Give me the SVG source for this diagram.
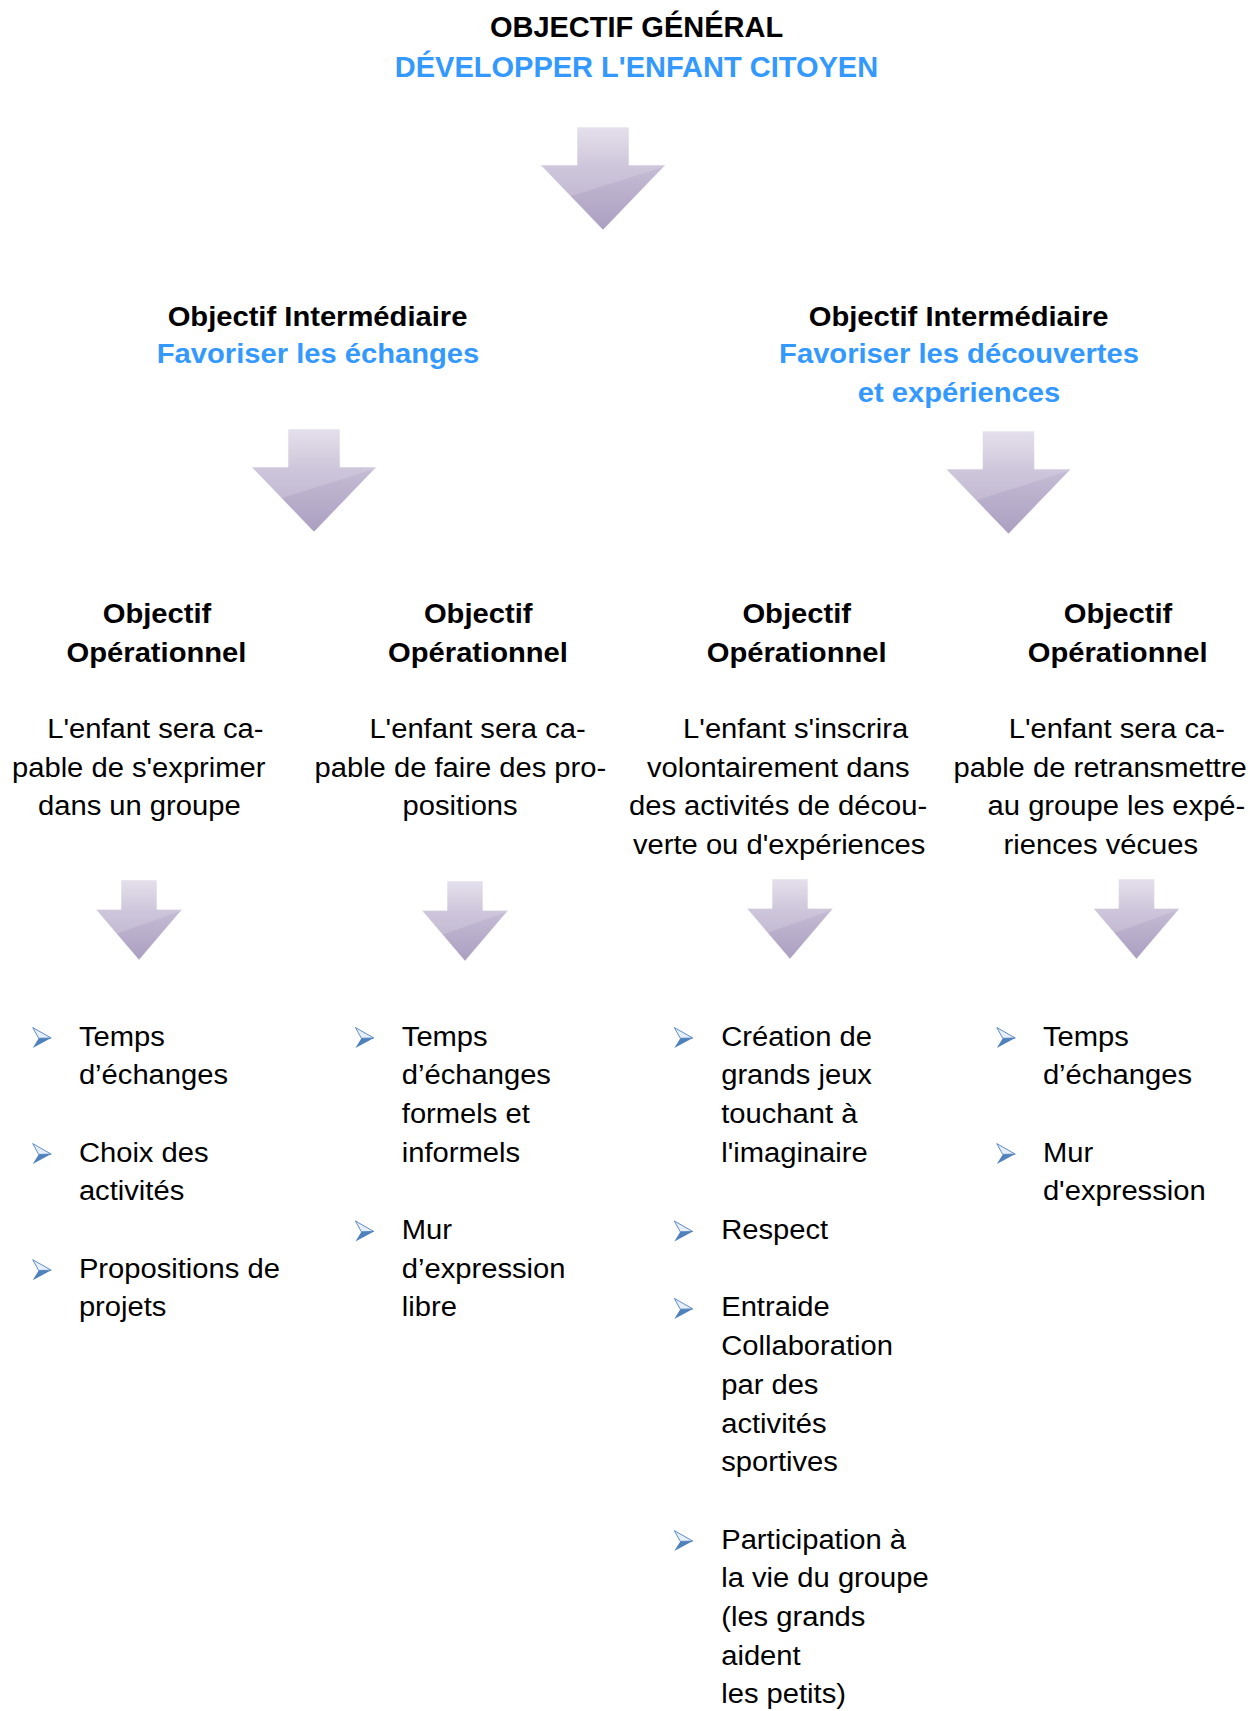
<svg xmlns="http://www.w3.org/2000/svg" xmlns:xlink="http://www.w3.org/1999/xlink" width="1250" height="1711" viewBox="0 0 1250 1711">
<style>
  text{font-family:"Liberation Sans",Arial,sans-serif;fill:#000}
  .title{font-size:29px;font-weight:bold;text-anchor:middle}
  .h{font-size:27px;font-weight:bold;text-anchor:middle}
  .blue{fill:#3399ff}
  .p{font-size:27px}
</style>
<defs>
  <linearGradient id="ag" x1="0" y1="0" x2="0" y2="1">
    <stop offset="0" stop-color="#e0dae8"/>
    <stop offset="0.4" stop-color="#c4bbd4"/>
    <stop offset="1" stop-color="#ab9fc0"/>
  </linearGradient>
  <clipPath id="ac"><path d="M-26,0H26V38H62.5L0,103L-62.5,38H-26Z"/></clipPath>
  <g id="arrow">
    <path d="M-26,0H26V38H62.5L0,103L-62.5,38H-26Z" fill="url(#ag)"/>
    <polygon points="-70,-5 70,-5 70,37 -70,81" fill="#ffffff" opacity="0.16" clip-path="url(#ac)"/>
    <path d="M-26,0H26V38H62.5L0,103L-62.5,38H-26Z" fill="none" stroke="#ffffff" stroke-opacity="0.55" stroke-width="1"/>
  </g>
  <g id="bul">
    <polygon points="0,0 18.5,10.5 6,10.8" fill="#e6eef9" stroke="#4f81bd" stroke-width="0.9" stroke-linejoin="round"/>
    <polygon points="6,10.8 18.5,10.5 0,20.5" fill="#4f81bd"/>
  </g>
</defs>
<rect width="1250" height="1711" fill="#ffffff"/>

<g id="connectors">
  <use xlink:href="#arrow" transform="translate(603,127)"/>
  <use xlink:href="#arrow" transform="translate(314,429)"/>
  <use xlink:href="#arrow" transform="translate(1008.5,431)"/>
  <use xlink:href="#arrow" transform="translate(139,880) scale(0.688,0.777)"/>
  <use xlink:href="#arrow" transform="translate(465,881) scale(0.688,0.777)"/>
  <use xlink:href="#arrow" transform="translate(790,879) scale(0.688,0.777)"/>
  <use xlink:href="#arrow" transform="translate(1136.5,879) scale(0.688,0.777)"/>
</g>

<g id="objectif-general">
  <text class="title" x="636.5" y="37">OBJECTIF GÉNÉRAL</text>
  <text class="title blue" x="636.5" y="77">DÉVELOPPER L'ENFANT CITOYEN</text>
</g>

<g id="intermediaire-1">
  <text class="h" transform="translate(317.5,325.5) scale(1.08,1)">Objectif Intermédiaire</text>
  <text class="h blue" transform="translate(318,363.3) scale(1.08,1)">Favoriser les échanges</text>
</g>

<g id="intermediaire-2">
  <text class="h" transform="translate(958.6,325.5) scale(1.08,1)">Objectif Intermédiaire</text>
  <text class="h blue" transform="translate(959,363.3) scale(1.08,1)">Favoriser les découvertes</text>
  <text class="h blue" transform="translate(959,401.7) scale(1.08,1)">et expériences</text>
</g>

<g id="operationnel-1">
  <text class="h" transform="translate(157,623) scale(1.08,1)">Objectif</text>
  <text class="h" transform="translate(156.5,661.5) scale(1.08,1)">Opérationnel</text>
  <text class="p" transform="translate(47.3,738.3) scale(1.08,1)">L'enfant sera ca-</text>
  <text class="p" transform="translate(12,776.8) scale(1.08,1)">pable de s'exprimer</text>
  <text class="p" transform="translate(38,815.3) scale(1.08,1)">dans un groupe</text>
</g>

<g id="operationnel-2">
  <text class="h" transform="translate(478.2,623) scale(1.08,1)">Objectif</text>
  <text class="h" transform="translate(478,661.5) scale(1.08,1)">Opérationnel</text>
  <text class="p" transform="translate(369.4,738.3) scale(1.08,1)">L'enfant sera ca-</text>
  <text class="p" transform="translate(314.5,776.8) scale(1.08,1)">pable de faire des pro-</text>
  <text class="p" transform="translate(402.6,815.3) scale(1.08,1)">positions</text>
</g>

<g id="operationnel-3">
  <text class="h" transform="translate(796.7,623) scale(1.08,1)">Objectif</text>
  <text class="h" transform="translate(796.7,661.5) scale(1.08,1)">Opérationnel</text>
  <text class="p" transform="translate(683.1,738.3) scale(1.08,1)">L'enfant s'inscrira</text>
  <text class="p" transform="translate(647,776.8) scale(1.08,1)">volontairement dans</text>
  <text class="p" transform="translate(629,815.3) scale(1.08,1)">des activités de décou-</text>
  <text class="p" transform="translate(633,853.8) scale(1.08,1)">verte ou d'expériences</text>
</g>

<g id="operationnel-4">
  <text class="h" transform="translate(1118,623) scale(1.08,1)">Objectif</text>
  <text class="h" transform="translate(1117.7,661.5) scale(1.08,1)">Opérationnel</text>
  <text class="p" transform="translate(1008.8,738.3) scale(1.08,1)">L'enfant sera ca-</text>
  <text class="p" transform="translate(953.5,776.8) scale(1.08,1)">pable de retransmettre</text>
  <text class="p" transform="translate(987.6,815.3) scale(1.08,1)">au groupe les expé-</text>
  <text class="p" transform="translate(1003.6,853.8) scale(1.08,1)">riences vécues</text>
</g>

<g id="actions-1">
  <use xlink:href="#bul" transform="translate(32.7,1027.5)"/>
  <use xlink:href="#bul" transform="translate(32.7,1143.6)"/>
  <use xlink:href="#bul" transform="translate(32.7,1259.7)"/>
  <text class="p" transform="translate(78.9,1045.5) scale(1.08,1)">Temps</text>
  <text class="p" transform="translate(78.9,1084.2) scale(1.08,1)">d’échanges</text>
  <text class="p" transform="translate(78.9,1161.6) scale(1.08,1)">Choix des</text>
  <text class="p" transform="translate(78.9,1200.3) scale(1.08,1)">activités</text>
  <text class="p" transform="translate(78.9,1277.7) scale(1.08,1)">Propositions de</text>
  <text class="p" transform="translate(78.9,1316.4) scale(1.08,1)">projets</text>
</g>

<g id="actions-2">
  <use xlink:href="#bul" transform="translate(355.4,1027.5)"/>
  <use xlink:href="#bul" transform="translate(355.4,1221)"/>
  <text class="p" transform="translate(401.8,1045.5) scale(1.08,1)">Temps</text>
  <text class="p" transform="translate(401.8,1084.2) scale(1.08,1)">d’échanges</text>
  <text class="p" transform="translate(401.8,1122.9) scale(1.08,1)">formels et</text>
  <text class="p" transform="translate(401.8,1161.6) scale(1.08,1)">informels</text>
  <text class="p" transform="translate(401.8,1239) scale(1.08,1)">Mur</text>
  <text class="p" transform="translate(401.8,1277.7) scale(1.08,1)">d’expression</text>
  <text class="p" transform="translate(401.8,1316.4) scale(1.08,1)">libre</text>
</g>

<g id="actions-3">
  <use xlink:href="#bul" transform="translate(674.3,1027.5)"/>
  <use xlink:href="#bul" transform="translate(674.3,1221)"/>
  <use xlink:href="#bul" transform="translate(674.3,1298.4)"/>
  <use xlink:href="#bul" transform="translate(674.3,1530.6)"/>
  <text class="p" transform="translate(721.2,1045.5) scale(1.08,1)">Création de</text>
  <text class="p" transform="translate(721.2,1084.2) scale(1.08,1)">grands jeux</text>
  <text class="p" transform="translate(721.2,1122.9) scale(1.08,1)">touchant à</text>
  <text class="p" transform="translate(721.2,1161.6) scale(1.08,1)">l'imaginaire</text>
  <text class="p" transform="translate(721.2,1239) scale(1.08,1)">Respect</text>
  <text class="p" transform="translate(721.2,1316.4) scale(1.08,1)">Entraide</text>
  <text class="p" transform="translate(721.2,1355.1) scale(1.08,1)">Collaboration</text>
  <text class="p" transform="translate(721.2,1393.8) scale(1.08,1)">par des</text>
  <text class="p" transform="translate(721.2,1432.5) scale(1.08,1)">activités</text>
  <text class="p" transform="translate(721.2,1471.2) scale(1.08,1)">sportives</text>
  <text class="p" transform="translate(721.2,1548.6) scale(1.08,1)">Participation à</text>
  <text class="p" transform="translate(721.2,1587.3) scale(1.08,1)">la vie du groupe</text>
  <text class="p" transform="translate(721.2,1626) scale(1.08,1)">(les grands</text>
  <text class="p" transform="translate(721.2,1664.7) scale(1.08,1)">aident</text>
  <text class="p" transform="translate(721.2,1703.4) scale(1.08,1)">les petits)</text>
</g>

<g id="actions-4">
  <use xlink:href="#bul" transform="translate(996.8,1027.5)"/>
  <use xlink:href="#bul" transform="translate(996.8,1143.6)"/>
  <text class="p" transform="translate(1042.9,1045.5) scale(1.08,1)">Temps</text>
  <text class="p" transform="translate(1042.9,1084.2) scale(1.08,1)">d’échanges</text>
  <text class="p" transform="translate(1042.9,1161.6) scale(1.08,1)">Mur</text>
  <text class="p" transform="translate(1042.9,1200.3) scale(1.08,1)">d'expression</text>
</g>
</svg>
